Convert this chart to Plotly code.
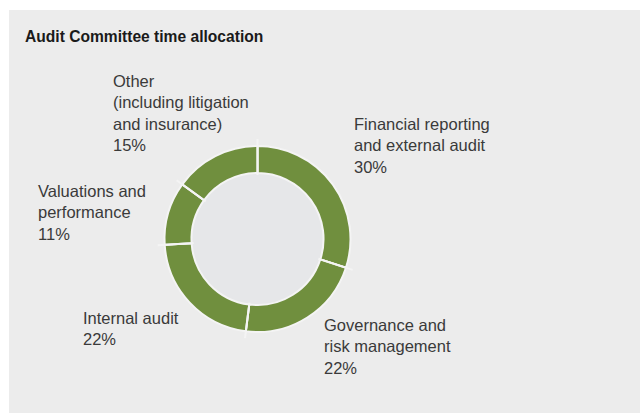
import math

import plotly.graph_objects as go

W, H = 640, 413

categories = [
    "Financial reporting<br>and external audit",
    "Governance and<br>risk management",
    "Internal audit",
    "Valuations and<br>performance",
    "Other<br>(including litigation<br>and insurance)",
]
shares = [30, 22, 22, 11, 15]

# where each label block sits (px from left, px from top of first line box)
label_pos = [(352, 113), (322, 314), (81, 307), (36, 180), (111, 70)]

GREEN = "#708f3e"
PANEL = "#ececec"
HOLE_FILL = "#e6e7e9"
TEXT = "#3a3a3a"

cx, cy, r_out = 257.5, 239, 93
hole = 0.71


def px(x):
    return x / W


def py(y):
    return 1 - y / H


fig = go.Figure()
fig.add_trace(
    go.Pie(
        labels=[c.replace("<br>", " ") for c in categories],
        values=shares,
        sort=False,
        direction="clockwise",
        rotation=0,
        hole=hole,
        textinfo="none",
        hoverinfo="label+percent",
        marker=dict(colors=[GREEN] * len(shares), line=dict(color="#f4f4f4", width=2)),
        domain=dict(x=[px(cx - r_out), px(cx + r_out)], y=[py(cy + r_out), py(cy - r_out)]),
        showlegend=False,
    )
)

shapes = [
    # grey panel
    dict(type="rect", xref="paper", yref="paper", x0=px(9), x1=1, y0=0, y1=py(10),
         fillcolor=PANEL, line=dict(width=0), layer="below"),
    # hole fill
    dict(type="circle", xref="paper", yref="paper",
         x0=px(cx - r_out * hole), x1=px(cx + r_out * hole),
         y0=py(cy + r_out * hole), y1=py(cy - r_out * hole),
         fillcolor=HOLE_FILL, line=dict(width=0), layer="below"),
]

# separator ticks that poke out past the ring
total = sum(shares)
cum = 0
for v in shares:
    ang = 2 * math.pi * cum / total
    cum += v
    x0 = cx + (r_out * hole - 2) * math.sin(ang)
    y0 = cy - (r_out * hole - 2) * math.cos(ang)
    x1 = cx + (r_out + 7) * math.sin(ang)
    y1 = cy - (r_out + 7) * math.cos(ang)
    shapes.append(dict(type="line", xref="paper", yref="paper",
                       x0=px(x0), y0=py(y0), x1=px(x1), y1=py(y1),
                       line=dict(color="#f4f4f4", width=2), layer="above"))

annotations = [
    dict(text="<b>Audit Committee time allocation</b>", x=px(23), y=py(36),
         xref="paper", yref="paper", xanchor="left", yanchor="middle", showarrow=False,
         font=dict(size=15.6, color="#1a1a1a", family="Liberation Sans, Arial, sans-serif")),
]
for cat, v, (lx, ly) in zip(categories, shares, label_pos):
    annotations.append(
        dict(text=f"{cat}<br>{v}%", x=px(lx), y=py(ly), xref="paper", yref="paper",
             xanchor="left", yanchor="top", align="left", showarrow=False,
             font=dict(size=16.5, color=TEXT, family="Liberation Sans, Arial, sans-serif"))
    )

fig.update_layout(
    width=W,
    height=H,
    margin=dict(l=0, r=0, t=0, b=0),
    paper_bgcolor="white",
    plot_bgcolor="white",
    shapes=shapes,
    annotations=annotations,
)
fig.write_html("out.html", config={"displayModeBar": False},
               post_script="document.body.style.margin='0px';")
